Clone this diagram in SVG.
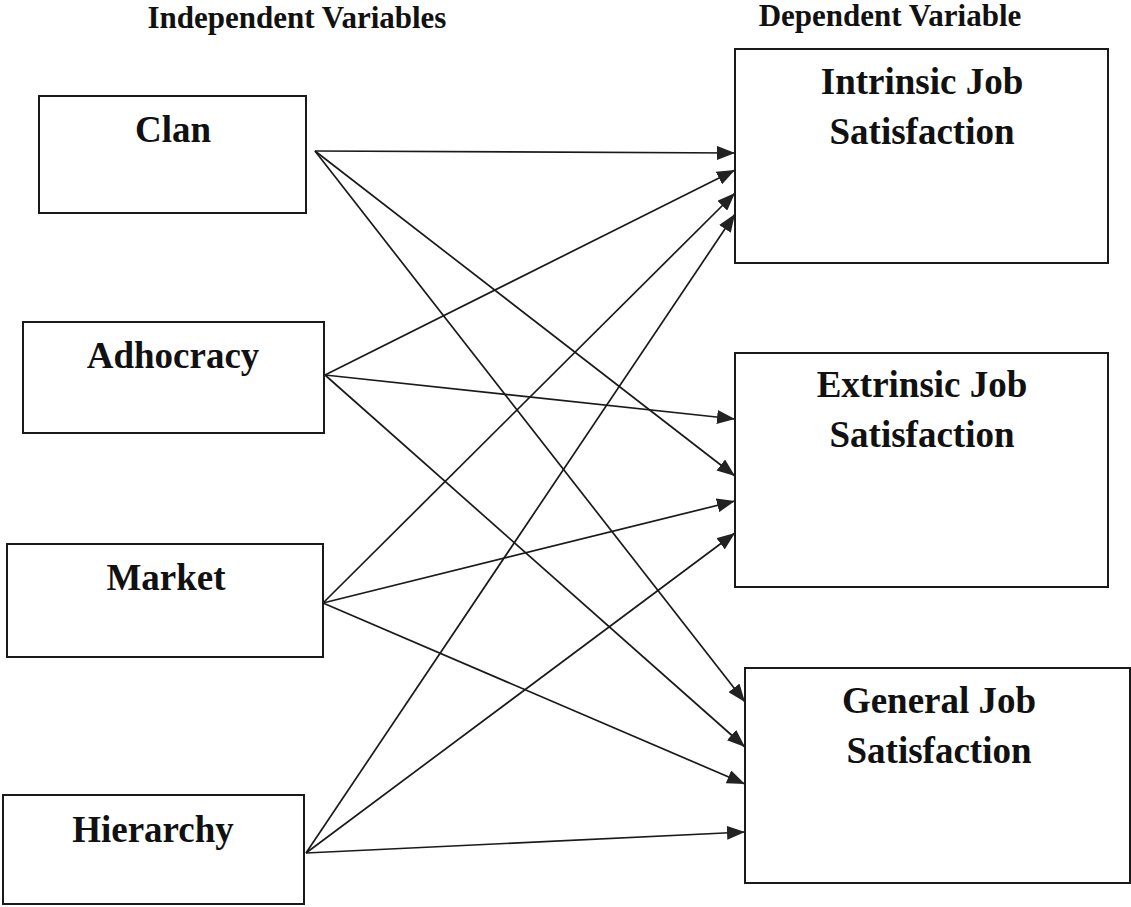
<svg xmlns="http://www.w3.org/2000/svg" width="1131" height="907" viewBox="0 0 1131 907">
<style>
.box{fill:#fff;stroke:#1a1a1a;stroke-width:2}
.lbl{font-family:"Liberation Serif",serif;font-weight:bold;font-size:37px;fill:#111;text-anchor:middle}
.hdr{font-family:"Liberation Serif",serif;font-weight:bold;font-size:31px;fill:#111;text-anchor:middle}
.con line{stroke:#1a1a1a;stroke-width:1.7;marker-end:url(#ah)}
</style>
<defs>
<marker id="ah" markerUnits="userSpaceOnUse" markerWidth="19" markerHeight="14" refX="18" refY="7" orient="auto" viewBox="0 0 19 14">
<path d="M0,0 L18,7 L0,14 z" fill="#222"/>
</marker>
</defs>
<rect width="1131" height="907" fill="#fff"/>
<g id="headers">
<text class="hdr" x="297" y="28">Independent Variables</text>
<text class="hdr" x="890" y="26">Dependent Variable</text>
</g>
<g id="clan"><rect class="box" x="39" y="96" width="267" height="117"/><text class="lbl" x="173" y="142">Clan</text></g>
<g id="adhocracy"><rect class="box" x="23" y="322" width="301" height="111"/><text class="lbl" x="173" y="368">Adhocracy</text></g>
<g id="market"><rect class="box" x="7" y="544" width="316" height="113"/><text class="lbl" x="166" y="590">Market</text></g>
<g id="hierarchy"><rect class="box" x="3" y="795" width="301" height="109"/><text class="lbl" x="153" y="842">Hierarchy</text></g>
<g id="intrinsic"><rect class="box" x="735" y="49" width="373" height="214"/><text class="lbl" x="922" y="94">Intrinsic Job</text><text class="lbl" x="922" y="144">Satisfaction</text></g>
<g id="extrinsic"><rect class="box" x="735" y="353" width="373" height="234"/><text class="lbl" x="922" y="397">Extrinsic Job</text><text class="lbl" x="922" y="447">Satisfaction</text></g>
<g id="general"><rect class="box" x="745" y="668" width="385" height="215"/><text class="lbl" x="939" y="713">General Job</text><text class="lbl" x="939" y="763">Satisfaction</text></g>
<g id="connectors" class="con">
<line x1="315" y1="151" x2="735" y2="153"/>
<line x1="315" y1="151" x2="735" y2="476"/>
<line x1="315" y1="151" x2="745" y2="702"/>
<line x1="325" y1="375" x2="735" y2="170"/>
<line x1="325" y1="375" x2="735" y2="419"/>
<line x1="325" y1="375" x2="745" y2="747"/>
<line x1="323" y1="603" x2="735" y2="193"/>
<line x1="323" y1="603" x2="735" y2="501"/>
<line x1="323" y1="603" x2="745" y2="784"/>
<line x1="306" y1="853" x2="735" y2="214"/>
<line x1="306" y1="853" x2="735" y2="533"/>
<line x1="306" y1="853" x2="745" y2="832"/>
</g>
</svg>
